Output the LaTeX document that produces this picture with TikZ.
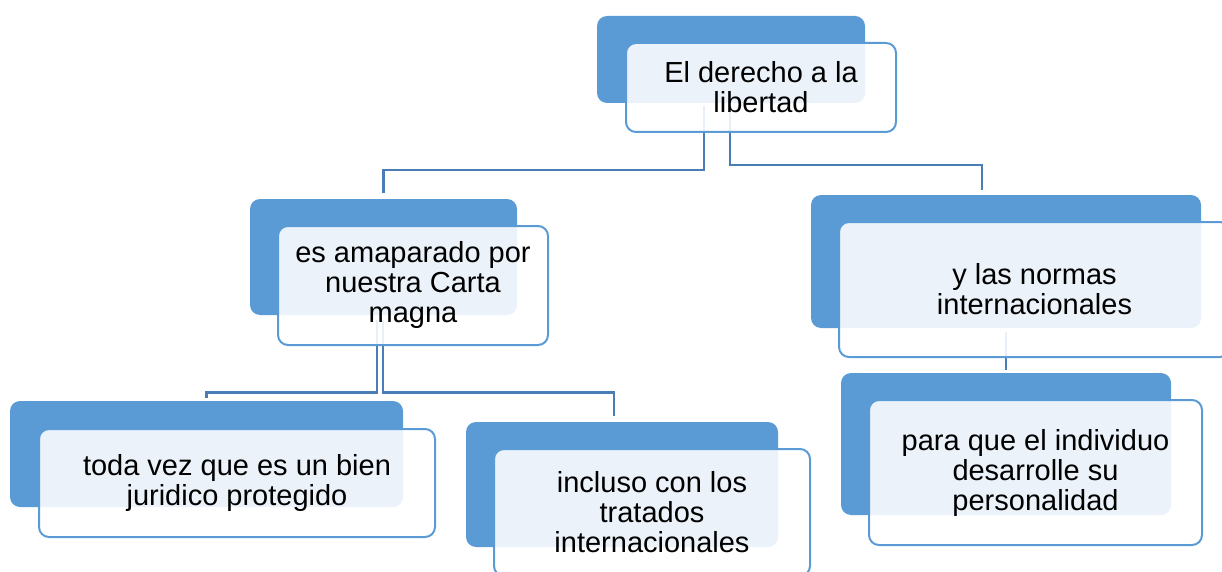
\documentclass[tikz,border=0pt]{standalone}
\usepackage{fontspec}
\setmainfont{Liberation Sans}
\usetikzlibrary{calc}
\definecolor{accblue}{HTML}{5B9BD5}
\definecolor{connblue}{HTML}{4A7DB5}
\tikzset{
  backbox/.style={draw=none, fill=accblue, rounded corners=10pt, inner sep=0pt},
  frontbox/.style={draw=accblue, line width=2pt, fill=white, fill opacity=0.88, text opacity=1,
    rounded corners=10pt, inner sep=0pt, align=center, text=black,
    font=\fontsize{29}{30}\selectfont},
  conn/.style={draw=connblue, line width=2.6pt}
}
\begin{document}
\begin{tikzpicture}[x=1pt,y=-1pt]
\useasboundingbox (0,0) rectangle (1222,572);
\clip (0,0) rectangle (1222,572);
% back boxes
\node[backbox, minimum width=268pt, minimum height=87pt] (b0) at (731,59.5) {};
\node[backbox, minimum width=267pt, minimum height=116pt] (b1) at (383.5,257) {};
\node[backbox, minimum width=390pt, minimum height=133pt] (b2) at (1006,261.5) {};
\node[backbox, minimum width=393pt, minimum height=106pt] (b3) at (206.5,454) {};
\node[backbox, minimum width=312pt, minimum height=125pt] (b4) at (622,484.5) {};
\node[backbox, minimum width=330pt, minimum height=142pt] (b5) at (1006,444) {};
% connectors
\draw[conn] ([xshift=-27pt,yshift=-3pt]b0.south) -- ++(0,64) -| ([yshift=6pt]b1.north);
\draw[conn] ([xshift=-1pt,yshift=-3pt]b0.south) -- ++(0,59) -| ([xshift=-24pt,yshift=5pt]b2.north);
\draw[conn] ([xshift=-6.5pt,yshift=-5pt]b1.south) -- ++(0,72) -| ([yshift=3pt]b3.north);
\draw[conn] ([xshift=-0.5pt,yshift=-5pt]b1.south) -- ++(0,72) -| ([xshift=-8pt,yshift=5.5pt]b4.north);
\draw[conn] ([yshift=-4pt]b2.south) -- ([yshift=3pt]b5.north);
% front boxes
\node[frontbox, minimum width=270pt, minimum height=89pt] (f0) at (761,87.5) {El derecho a la\\libertad};
\node[frontbox, minimum width=270pt, minimum height=119pt] (f1) at (413,285.5) {es amaparado por\\nuestra Carta\\magna};
\node[frontbox, minimum width=391pt, minimum height=135pt] (f2) at (1034.5,289.5) {y las normas\\internacionales};
\node[frontbox, minimum width=396pt, minimum height=108pt] (f3) at (237,483) {toda vez que es un bien\\juridico protegido};
\node[frontbox, minimum width=316pt, minimum height=127pt] (f4) at (652,512.5) {incluso con los\\tratados\\internacionales};
\node[frontbox, minimum width=333pt, minimum height=145pt] (f5) at (1035.5,472.5) {para que el individuo\\desarrolle su\\personalidad};
\end{tikzpicture}
\end{document}
